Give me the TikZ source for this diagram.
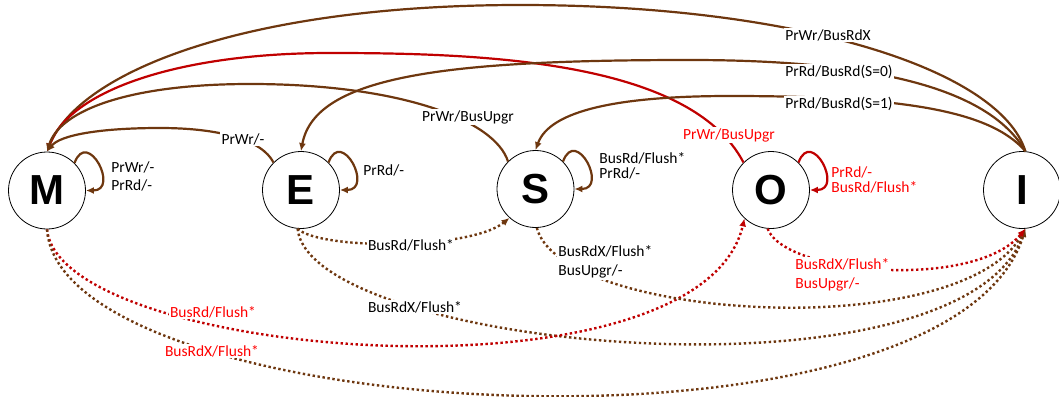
\documentclass[tikz,border=0pt]{standalone}
\usepackage{fontspec}
\setmainfont{Carlito}
\newfontfamily\statefont{Liberation Sans}
\usetikzlibrary{arrows.meta}
\definecolor{brn}{RGB}{110,55,15}
\definecolor{dred}{RGB}{192,0,0}
\definecolor{lred}{RGB}{255,0,0}
\begin{document}
\begin{tikzpicture}[x=1pt,y=-1pt,
  state/.style={circle,draw=black,line width=0.8pt,minimum size=77pt,inner sep=0pt,font=\statefont\fontsize{42}{42}\selectfont\bfseries},
  lbl/.style={fill=white,inner sep=1.2pt,font=\fontsize{15.5}{18}\selectfont,align=left},
  sol/.style={line width=2.2pt,-{Latex[length=8pt,width=7pt]}},
  dot/.style={line width=2.4pt,dash pattern=on 2.4pt off 2.6pt,-{Latex[length=8pt,width=7pt]}},
]
\useasboundingbox (0,0) rectangle (1059,396);
\node[state] (M) at (47,190.5) {M};
\node[state] (E) at (301,190) {E};
\node[state] (S) at (535.5,189) {S};
\node[state] (O) at (771,190) {O};
\node[state] (I) at (1022,190) {I};

% upper solid transitions
\draw[sol,brn] (I.85) .. controls (1000,70) and (800,5) .. (520,5) .. controls (250,5) and (80,70) .. (M.north);
\draw[sol,dred] (O.135) .. controls (690,60) and (480,53) .. (330,53) .. controls (180,53) and (70,90) .. (M.north);
\draw[sol,brn] (S.135) .. controls (495,120) and (400,84) .. (250,84) .. controls (130,84) and (60,110) .. (M.north);
\draw[sol,brn] (E.135) .. controls (262,140) and (220,128) .. (160,128) .. controls (100,128) and (60,135) .. (M.north);
\draw[sol,brn] (I.85) .. controls (990,90) and (880,60) .. (690,60) .. controls (450,60) and (315,75) .. (E.north);
\draw[sol,brn] (I.85) .. controls (990,110) and (900,96) .. (730,96) .. controls (620,96) and (550,110) .. (S.north);

% self loops
\draw[sol,brn] (M.45) .. controls +(13,-35) and +(34,0) .. (M.east);
\draw[sol,brn] (E.45) .. controls +(13,-35) and +(34,0) .. (E.east);
\draw[sol,brn] (S.45) .. controls +(13,-35) and +(34,0) .. (S.east);
\draw[sol,dred] (O.45) .. controls +(13,-35) and +(34,0) .. (O.east);

% lower dotted transitions
\draw[dot,brn] (E.265) .. controls (320,250) and (470,250) .. (S.228);
\draw[dot,brn] (E.265) .. controls (310,350) and (960,410) .. (I.275);
\draw[dot,dred] (M.south) .. controls (60,360) and (700,410) .. (O.227);
\draw[dot,brn] (M.south) .. controls (60,425) and (950,475) .. (I.275);
\draw[dot,brn] (S.272) .. controls (560,320) and (960,345) .. (I.275);
\draw[dot,dred] (O.265) .. controls (785,275) and (975,290) .. (I.275);

% labels
\node[lbl] (l1) at (828,35) {PrWr/BusRdX};
\node[lbl] (l2) at (839,72) {PrRd/BusRd(S=0)};
\node[lbl] (l3) at (839,104) {PrRd/BusRd(S=1)};
\node[lbl,text=lred] (l4) at (729,135) {PrWr/BusUpgr};
\node[lbl] (l5) at (468,117) {PrWr/BusUpgr};
\node[lbl] (l6) at (243,139) {PrWr/-};
\node[lbl,anchor=west] (l7) at (110,176) {PrWr/-\\PrRd/-};
\node[lbl,anchor=west] (l8) at (362,170) {PrRd/-};
\node[lbl,anchor=west,font=\fontsize{15.5}{15}\selectfont] (l9) at (598,166) {BusRd/Flush*\\PrRd/-};
\node[lbl,anchor=west,text=lred,font=\fontsize{15.5}{15}\selectfont] (l10) at (830,180) {PrRd/-\\BusRd/Flush*};
\node[lbl] (l11) at (411,245) {BusRd/Flush*};
\node[lbl] (l12) at (415,307) {BusRdX/Flush*};
\node[lbl,text=lred] (l13) at (213,312) {BusRd/Flush*};
\node[lbl,text=lred] (l14) at (212,351) {BusRdX/Flush*};
\node[lbl,anchor=west,font=\fontsize{15.5}{19}\selectfont] (l15) at (557,262) {BusRdX/Flush*\\BusUpgr/-};
\node[lbl,anchor=west,text=lred,font=\fontsize{15.5}{19}\selectfont] (l16) at (794,275) {BusRdX/Flush*\\BusUpgr/-};
\end{tikzpicture}
\end{document}
